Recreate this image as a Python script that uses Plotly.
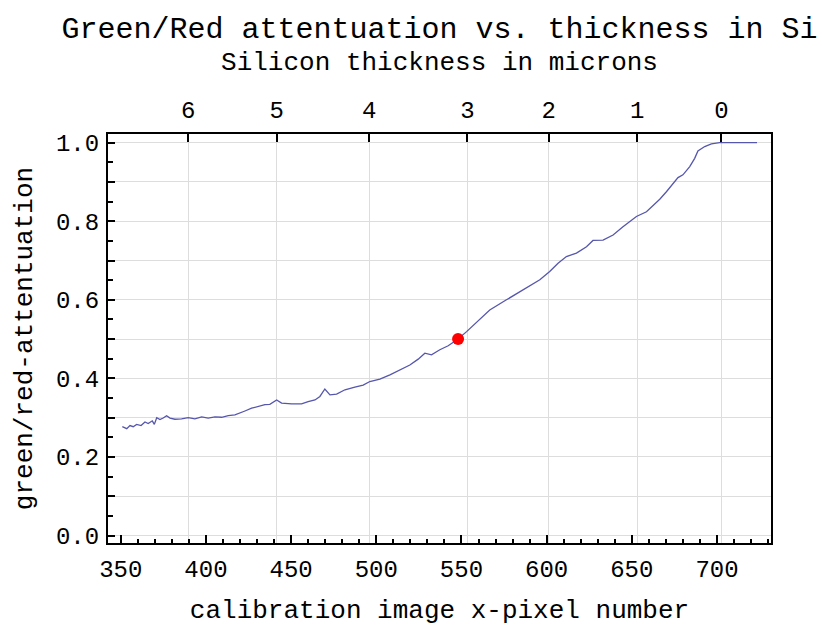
import plotly.graph_objects as go

# ---- data ----
pixel_x = [350.9, 353.5, 355.4, 357.3, 359.3, 361.9, 364.2, 366.1, 368.5, 369.7,
           371.1, 373.0, 374.9, 376.9, 378.9, 381.8, 385.7, 389.6, 393.5, 397.5,
           401.3, 405.3, 409.2, 413.1, 417.0, 419.9, 422.9, 426.8, 430.7, 434.6,
           437.5, 441.5, 444.4, 450.3, 456.1, 460.0, 464.0, 466.9, 469.8, 472.8,
           476.7, 481.6, 487.4, 492.3, 496.2, 502.1, 508.0, 513.8,
           519.7, 524.6, 528.5, 532.4, 537.3, 542.2, 548.0, 553.0, 559.8, 566.6,
           576.4, 586.2, 596.0, 601.8, 606.7, 611.6, 617.5, 623.4, 627.2, 633.1,
           639.0, 644.8, 652.7, 658.6, 666.4, 670.3, 677.1, 680.0, 684.0, 686.9,
           688.8, 692.8, 696.7, 701.6, 723.5]
attenuation = [0.277, 0.272, 0.280, 0.277, 0.283, 0.280, 0.289, 0.285, 0.292, 0.283,
               0.300, 0.295, 0.299, 0.305, 0.299, 0.296, 0.297, 0.300, 0.297, 0.302,
               0.299, 0.302, 0.301, 0.305, 0.307, 0.311, 0.317, 0.324, 0.329, 0.333,
               0.334, 0.345, 0.337, 0.335, 0.335, 0.341, 0.345, 0.354, 0.373, 0.358,
               0.360, 0.371, 0.378, 0.383, 0.392, 0.398, 0.409, 0.422,
               0.434, 0.449, 0.464, 0.460, 0.473, 0.483, 0.500, 0.519, 0.547, 0.574,
               0.600, 0.625, 0.651, 0.672, 0.693, 0.710, 0.719, 0.735, 0.751, 0.752,
               0.765, 0.786, 0.812, 0.824, 0.856, 0.875, 0.911, 0.918, 0.939, 0.960,
               0.979, 0.990, 0.997, 1.000, 1.000]

marker_x = [548.0]
marker_y = [0.5]

# thickness (microns) tick labels on the top axis and their pixel positions
thickness_labels = ["6", "5", "4", "3", "2", "1", "0"]
thickness_pixel = [389.6, 441.5, 495.8, 553.5, 601.2, 653.2, 702.6]

x_ticks = [350, 400, 450, 500, 550, 600, 650, 700]
y_ticks = [0.0, 0.1, 0.2, 0.3, 0.4, 0.5, 0.6, 0.7, 0.8, 0.9, 1.0]
y_ticktext = ["0.0", "", "0.2", "", "0.4", "", "0.6", "", "0.8", "", "1.0"]

FONT = "Liberation Mono, Courier New, monospace"
X_RANGE = [342.5, 731.7]
Y_RANGE = [-0.019, 1.022]

fig = go.Figure()
fig.add_trace(go.Scatter(x=pixel_x, y=attenuation, mode="lines",
                         line=dict(color="#5656ad", width=1.3),
                         showlegend=False, hoverinfo="skip"))
fig.add_trace(go.Scatter(x=marker_x, y=marker_y, mode="markers",
                         marker=dict(color="#ff0000", size=12),
                         showlegend=False))
# invisible trace to attach top axis
fig.add_trace(go.Scatter(x=thickness_pixel, y=[None] * len(thickness_pixel),
                         xaxis="x2", mode="markers", showlegend=False))

fig.update_layout(
    width=822, height=626,
    margin=dict(l=108, r=51, t=134, b=83),
    paper_bgcolor="white", plot_bgcolor="white",
    font=dict(family=FONT, color="black", size=24),
    title=dict(text="Green/Red attentuation vs. thickness in Si",
               x=0.5, xref="paper", xanchor="center",
               y=1 - 27 / 626, yref="container", yanchor="middle",
               pad=dict(t=0, b=0, l=0, r=0),
               font=dict(family=FONT, size=30, color="black")),
    xaxis=dict(range=X_RANGE, tickvals=x_ticks, ticks="inside", ticklen=8,
               tickwidth=1.5, tickcolor="black", automargin=False,
               minor=dict(dtick=10, ticks="inside", ticklen=4, tickcolor="black"),
               showgrid=False, zeroline=False,
               showline=True, linecolor="black", linewidth=2, mirror=True,
               ticklabelstandoff=3,
               title=dict(text="calibration image x-pixel number",
                          font=dict(family=FONT, size=26), standoff=22),
               tickfont=dict(family=FONT, size=24)),
    xaxis2=dict(range=X_RANGE, overlaying="x", side="top", automargin=False,
                tickvals=thickness_pixel, ticktext=thickness_labels,
                ticks="inside", ticklen=8, tickwidth=1.5, tickcolor="black",
                showgrid=True, gridcolor="#dddddd", gridwidth=1,
                zeroline=False, showline=False, ticklabelstandoff=10,
                title=dict(text="Silicon thickness in microns",
                           font=dict(family=FONT, size=26), standoff=20),
                tickfont=dict(family=FONT, size=24)),
    yaxis=dict(range=Y_RANGE, tickvals=y_ticks, ticktext=y_ticktext,
               ticks="inside", ticklen=7, tickwidth=1.5, tickcolor="black",
               automargin=False,
               minor=dict(dtick=0.05, tick0=0, ticks="inside", ticklen=5,
                          tickcolor="black"),
               showgrid=True, gridcolor="#dddddd", gridwidth=1,
               zeroline=False,
               showline=True, linecolor="black", linewidth=2, mirror=True,
               ticklabelstandoff=2,
               title=dict(text="green/red-attentuation",
                          font=dict(family=FONT, size=26), standoff=16),
               tickfont=dict(family=FONT, size=24)),
)

fig.write_html("out.html",
               config={"displayModeBar": False},
               post_script="document.body.style.margin='0';"
                           "document.body.style.padding='0';")
